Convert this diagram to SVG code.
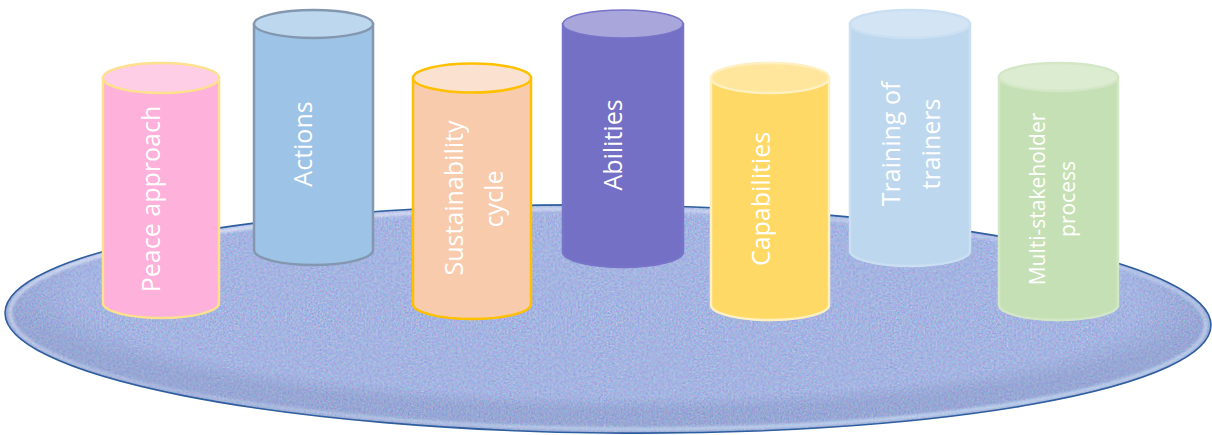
<svg xmlns="http://www.w3.org/2000/svg" width="1212" height="435" viewBox="0 0 1212 435">
  <style>
    .lbl { font-family: "Open Sans", "Liberation Sans", sans-serif; fill: #ffffff; font-size: 25px; text-anchor: middle; }
    .sm { font-size: 21px; }
    .cyl { stroke-width: 2.5; }
  </style>
  <defs>
    <!-- grainy texture for the platform surface -->
    <filter id="grain" x="0" y="0" width="100%" height="100%" color-interpolation-filters="sRGB">
      <feTurbulence type="fractalNoise" baseFrequency="0.55" numOctaves="3" seed="7" result="n"/>
      <feColorMatrix in="n" type="matrix" values="0.45 0 0 0 0.42  0 0.35 0 0 0.53  0 0 0.25 0 0.76  0 0 0 0 1" result="c"/>
      <feComposite in="c" in2="SourceGraphic" operator="in"/>
    </filter>
    <filter id="soft" x="-5%" y="-20%" width="110%" height="140%">
      <feGaussianBlur stdDeviation="1.5"/>
    </filter>
    <linearGradient id="rimLight" x1="0" y1="0" x2="1" y2="1">
      <stop offset="0" stop-color="#ffffff" stop-opacity="0.9"/>
      <stop offset="0.5" stop-color="#e8f4ff" stop-opacity="0.3"/>
      <stop offset="1" stop-color="#d8f2ff" stop-opacity="0.9"/>
    </linearGradient>
    <radialGradient id="shade" cx="0.5" cy="0.4" r="0.5">
      <stop offset="0.88" stop-color="#5a6a9a" stop-opacity="0"/>
      <stop offset="1" stop-color="#5a6a9a" stop-opacity="0.18"/>
    </radialGradient>
  </defs>

  <!-- platform disc -->
  <g id="platform" transform="rotate(0.6 608 319)">
    <ellipse cx="608" cy="319" rx="603" ry="114" fill="#a6b4e0"/>
    <ellipse cx="608" cy="319" rx="603" ry="114" fill="#ffffff" filter="url(#grain)"/>
    <ellipse cx="608" cy="319" rx="603" ry="114" fill="url(#shade)"/>
    <ellipse cx="608" cy="319" rx="598" ry="110" fill="none" stroke="url(#rimLight)" stroke-width="3" filter="url(#soft)"/>
    <ellipse cx="608" cy="319" rx="603" ry="114" fill="none" stroke="#2f5e9e" stroke-width="1.6"/>
  </g>

  <!-- cylinders -->
  <g id="peace-approach">
    <path class="cyl" d="M103,78 V303 A58,15 0 0 0 219,303 V78 Z" fill="#feb1da" stroke="#ffe08c"/>
    <ellipse class="cyl" cx="161" cy="78" rx="58" ry="15" fill="#fecde6" stroke="#ffe08c"/>
    <text class="lbl" transform="translate(160,199) rotate(-90)">Peace approach</text>
  </g>

  <g id="actions">
    <path class="cyl" d="M254,24 V250 A59.5,15 0 0 0 373,250 V24 Z" fill="#9dc3e6" stroke="#8497b0"/>
    <ellipse class="cyl" cx="313.5" cy="24" rx="59.5" ry="14" fill="#bdd7ee" stroke="#8497b0"/>
    <text class="lbl" transform="translate(312,144) rotate(-90)">Actions</text>
  </g>

  <g id="sustainability-cycle">
    <path class="cyl" d="M413,78 V304 A59,15 0 0 0 531,304 V78 Z" fill="#f8cbad" stroke="#ffc000"/>
    <ellipse class="cyl" cx="472" cy="78" rx="59" ry="14.5" fill="#fbe1cf" stroke="#ffc000"/>
    <text class="lbl" transform="translate(463,198) rotate(-90)">Sustainability</text>
    <text class="lbl" transform="translate(503,199) rotate(-90)">cycle</text>
  </g>

  <g id="abilities">
    <path class="cyl" d="M563,24 V252 A60,15 0 0 0 683,252 V24 Z" fill="#7470c5" stroke="#7773c9" stroke-width="1.5"/>
    <ellipse cx="623" cy="24" rx="60" ry="14" fill="#a8a6da" stroke="#7773c9" stroke-width="1.5"/>
    <text class="lbl" transform="translate(622,145) rotate(-90)">Abilities</text>
  </g>

  <g id="capabilities">
    <path class="cyl" d="M711,78 V305 A59,15 0 0 0 829,305 V78 Z" fill="#ffd966" stroke="#fff0c2"/>
    <ellipse class="cyl" cx="770" cy="78" rx="59" ry="15" fill="#ffe69c" stroke="#fff0c2"/>
    <text class="lbl" transform="translate(770,199) rotate(-90)">Capabilities</text>
  </g>

  <g id="training-of-trainers">
    <path class="cyl" d="M850,24 V251 A60,15 0 0 0 970,251 V24 Z" fill="#bdd7ee" stroke="#cadff2"/>
    <ellipse class="cyl" cx="910" cy="24" rx="60" ry="14" fill="#d3e4f4" stroke="#cadff2"/>
    <text class="lbl" transform="translate(900,144) rotate(-90)">Training of</text>
    <text class="lbl" transform="translate(940,144) rotate(-90)">trainers</text>
  </g>

  <g id="multi-stakeholder-process">
    <path class="cyl" d="M999,77 V305 A59.5,15 0 0 0 1118,305 V77 Z" fill="#c5e0b4" stroke="#d3e7c6"/>
    <ellipse class="cyl" cx="1058.5" cy="77" rx="59.5" ry="14" fill="#dcecd1" stroke="#d3e7c6"/>
    <text class="lbl sm" transform="translate(1045,199) rotate(-90)">Multi-stakeholder</text>
    <text class="lbl sm" transform="translate(1075,199) rotate(-90)">process</text>
  </g>

  <g id="connectors"/>
</svg>
